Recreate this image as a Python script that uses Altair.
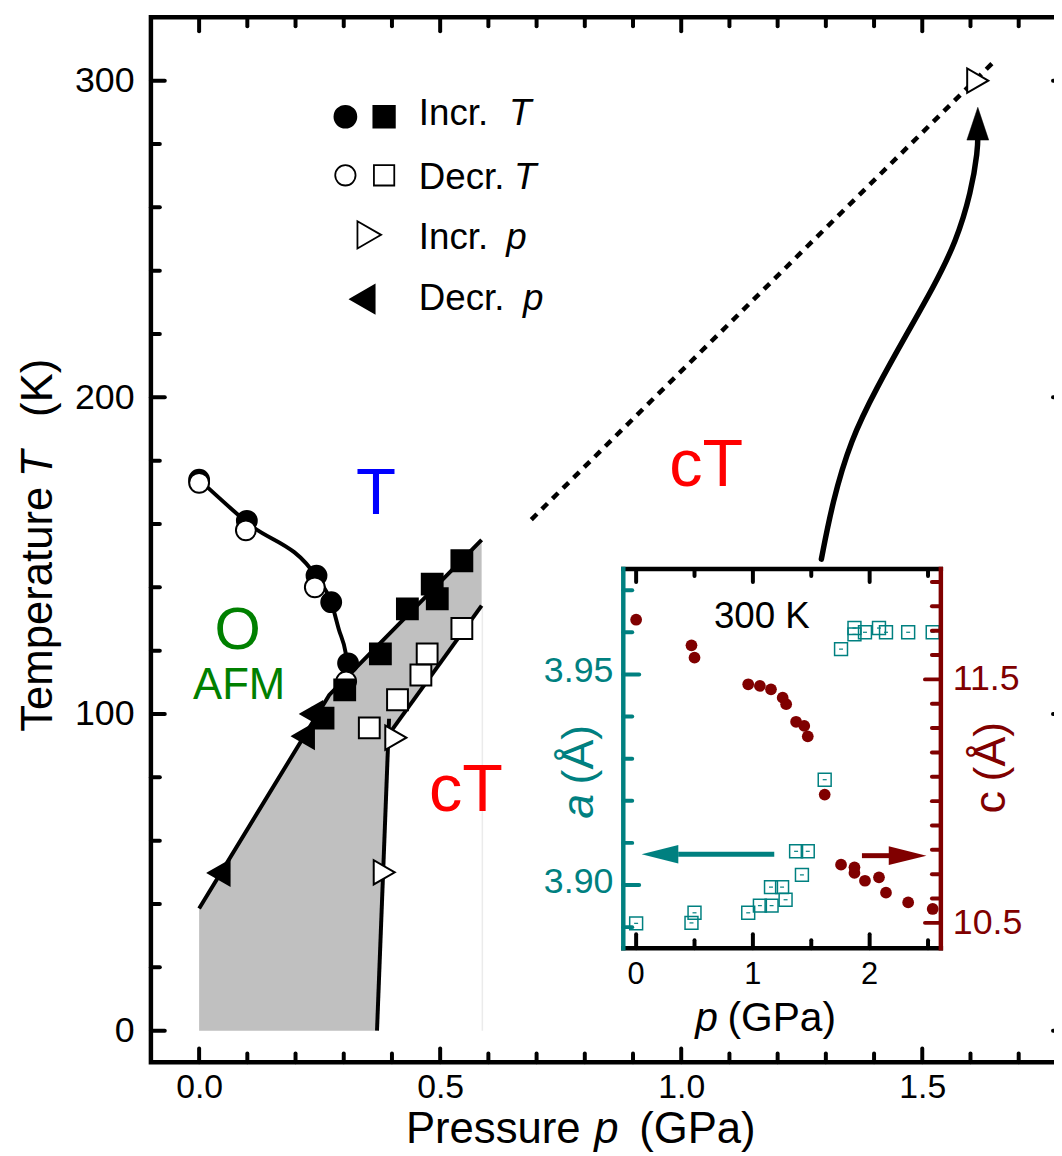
import altair as alt
import pandas as pd

FONT = "Liberation Sans"
TEAL = "#008080"
MAROON = "#800000"
SHADE = "#c0c0c0"

# ---------------- main panel values (p in GPa, T in K) ----------------
incr_T_circle_p = [0.000, 0.099, 0.2435, 0.274, 0.309]
incr_T_circle_T = [174.0, 161.0, 143.7, 135.3, 116.0]
decr_T_circle_p = [0.000, 0.097, 0.240, 0.305]
decr_T_circle_T = [173.0, 158.0, 140.0, 110.3]
incr_T_square_p = [0.257, 0.302, 0.376, 0.432, 0.4835, 0.494, 0.545]
incr_T_square_T = [98.7, 107.6, 119.0, 133.2, 141.0, 136.4, 148.4]
decr_T_square_p = [0.353, 0.4115, 0.460, 0.473, 0.545]
decr_T_square_T = [95.6, 104.5, 112.3, 119.0, 127.0]
incr_p_p = [0.384, 0.408, 1.615]
incr_p_T = [50.0, 92.5, 300.0]
decr_p_p = [0.041, 0.233, 0.216]
decr_p_T = [49.8, 100.0, 93.0]

o_t_line_p = [0.000, 0.099, 0.2435, 0.274, 0.290, 0.304, 0.309]
o_t_line_T = [174.0, 160.5, 143.2, 135.3, 126.6, 119.3, 114.0]
upper_line_p = [0.000, 0.270, 0.586]
upper_line_T = [38.6, 106.0, 155.0]
lower_line_p = [0.393, 0.586]
lower_line_T = [93.5, 134.2]
steep_line_p = [0.369, 0.394]
steep_line_T = [0.0, 98.5]
dotted_line_p = [0.689, 1.646]
dotted_line_T = [161.4, 305.6]
shade_p = [0.000, 0.270, 0.369, 0.393, 0.586]
shade_top_T = [38.6, 106.0, 121.3, 125.0, 155.0]
shade_bottom_T = [0.0, 0.0, 0.0, 93.5, 134.2]
shade_edge_p = [0.5875, 0.5875]
shade_edge_T = [0.0, 134.2]
curve_arrow_p = [1.2907, 1.3134, 1.3512, 1.4060, 1.4677, 1.5226, 1.5706, 1.6015, 1.6152, 1.6152]
curve_arrow_T = [148.9, 166.7, 186.5, 203.2, 220.0, 234.6, 249.2, 264.9, 278.0, 283.0]
curve_head_p = [1.6152]
curve_head_T = [286.4]

phase_T_label = (["T"], [0.367], [163.3])
phase_O_label = (["O"], [0.080], [120.6])
phase_AFM_label = (["AFM"], [0.083], [104.7])
phase_cT_labels = (["cT", "cT"], [0.5535, 1.052], [69.3, 172.0])

legend_words = ["Incr.", "Decr.", "Incr.", "Decr."]
legend_symbols = ["T", "T", "p", "p"]
legend_word_p = [0.4557, 0.4557, 0.4557, 0.4557]
legend_word_T = [286.0, 265.7, 246.9, 227.5]
legend_symbol_p = [0.643, 0.6534, 0.6369, 0.6719]
legend_row_T = [288.6, 270.1, 251.3, 231.0]
legend_circle_p = 0.3034
legend_square_p = 0.3837
legend_tri_right_p = 0.353
legend_tri_left_p = 0.339

x_label_values = [0.0, 0.5, 1.0, 1.5]
y_label_values = [0, 100, 200, 300]
x_minor_ticks = [0.1, 0.2, 0.3, 0.4, 0.6, 0.7, 0.8, 0.9, 1.1, 1.2, 1.3, 1.4, 1.6, 1.7]
y_minor_ticks = [20, 40, 60, 80, 120, 140, 160, 180, 220, 240, 260, 280]

# ---------------- inset values (p in GPa, a and c in Angstrom) ----------------
inset_p_a = [0.0, 0.474, 0.50, 0.96, 1.06, 1.16, 1.155, 1.25, 1.28, 1.37, 1.42, 1.47,
             1.615, 1.755, 1.87, 1.87, 1.96, 2.08, 2.14, 2.33, 2.54]
inset_a = [3.8909, 3.8910, 3.8934, 3.8934, 3.8951, 3.8951, 3.8995, 3.8995, 3.8965, 3.9080,
           3.9024, 3.9080, 3.9250, 3.9560, 3.9610, 3.9595, 3.9600, 3.9610, 3.9600, 3.9600, 3.9600]
inset_p_c = [0.0, 0.474, 0.50, 0.96, 1.06, 1.155, 1.255, 1.285, 1.37, 1.44, 1.47, 1.615,
             1.755, 1.87, 1.87, 1.96, 2.08, 2.14, 2.33, 2.54]
inset_c = [11.745, 11.640, 11.589, 11.480, 11.473, 11.459, 11.425, 11.398, 11.326, 11.309,
           11.266, 11.027, 10.739, 10.728, 10.705, 10.673, 10.687, 10.624, 10.584, 10.557]
inset_x_labels = [0, 1, 2]
inset_x_minor = [0.5, 1.5, 2.5]
inset_a_labels = [3.90, 3.95]
inset_a_minor = [3.89, 3.91, 3.92, 3.93, 3.94, 3.96, 3.97]
inset_c_labels = [10.5, 11.5]
inset_c_minor = [10.6, 10.7, 10.8, 10.9, 11.0, 11.1, 11.2, 11.3, 11.4, 11.6, 11.7, 11.8, 11.9]
teal_arrow_p = [0.36, 1.183]
teal_arrow_a = 3.9073
teal_head_p = 0.204
maroon_arrow_p = [1.934, 2.20]
maroon_arrow_c = 10.776
maroon_head_p = 2.325
inset_note = (["300 K"], [1.077], [3.9611])

# ---------------- layout ----------------
W, H = 923, 1053
X_DOM = [-0.1, 1.8]
Y_DOM = [-10.0, 320.0]
IX_DOM = [-0.11, 2.61]
IX_RANGE = [476, 796]
A_DOM = [3.885, 3.975]
C_DOM = [10.396, 11.953]
IY_RANGE = [938, 556]

X_AXIS = alt.Axis(values=x_label_values, format=".1f", domain=False, ticks=False, grid=False,
                  labelFontSize=34, labelColor="black", labelPadding=8, labelFont=FONT, title=None)
Y_AXIS = alt.Axis(values=y_label_values, format="d", domain=False, ticks=False, grid=False,
                  labelFontSize=36, labelColor="black", labelPadding=17, labelFont=FONT, title=None)
XM = alt.X("x:Q", scale=alt.Scale(domain=X_DOM, nice=False, zero=False), axis=X_AXIS)
YM = alt.Y("y:Q", scale=alt.Scale(domain=Y_DOM, nice=False, zero=False), axis=Y_AXIS)

XI = alt.X("ix:Q", scale=alt.Scale(domain=IX_DOM, range=IX_RANGE, nice=False, zero=False), axis=None)
YA = alt.Y("a:Q", scale=alt.Scale(domain=A_DOM, range=IY_RANGE, nice=False, zero=False), axis=None)
YC = alt.Y("c:Q", scale=alt.Scale(domain=C_DOM, range=IY_RANGE, nice=False, zero=False), axis=None)


def df(p, T):
    return pd.DataFrame({"x": p, "y": T})


def line(p, T, **kw):
    return alt.Chart(df(p, T)).mark_line(**kw).encode(x=XM, y=YM)


def pts(p, T, shape, size, fill, stroke="black", sw=2):
    return alt.Chart(df(p, T)).mark_point(
        shape=shape, size=size, filled=True, fill=fill, stroke=stroke,
        strokeWidth=sw, opacity=1).encode(x=XM, y=YM)


def dtext(lab, size, color="black", align="center", style="normal"):
    t, p, T = lab
    d = pd.DataFrame({"x": p, "y": T, "t": t})
    return alt.Chart(d).mark_text(font=FONT, fontSize=size, color=color, align=align,
                                  baseline="alphabetic", fontStyle=style).encode(
        x=XM, y=YM, text="t:N")


def ptext(txt, x, y, size, color="black", align="center", style="normal", angle=0):
    d = pd.DataFrame({"t": [txt]})
    return alt.Chart(d).mark_text(font=FONT, fontSize=size, color=color, align=align,
                                  baseline="alphabetic", fontStyle=style, angle=angle).encode(
        x=alt.value(x), y=alt.value(y), text="t:N")


def vticks(field, vals, enc, y0, y1, color="black", sw=4):
    d = pd.DataFrame({field: vals})
    return alt.Chart(d).mark_rule(color=color, strokeWidth=sw, strokeCap="round").encode(
        x=enc, y=alt.value(y0), y2=alt.value(y1))


def hticks(field, vals, enc, x0, x1, color="black", sw=4):
    d = pd.DataFrame({field: vals})
    return alt.Chart(d).mark_rule(color=color, strokeWidth=sw, strokeCap="round").encode(
        y=enc, x=alt.value(x0), x2=alt.value(x1))


# ---------------- main panel ----------------
shade = alt.Chart(pd.DataFrame({"x": shade_p, "y": shade_top_T, "y2": shade_bottom_T})).mark_area(
    color=SHADE, opacity=1).encode(x=XM, y=YM, y2="y2:Q")
shade_edge = line(shade_edge_p, shade_edge_T, color="#ebebeb", strokeWidth=1.5)

lines = [
    line(o_t_line_p, o_t_line_T, color="black", strokeWidth=4, interpolate="monotone"),
    line(upper_line_p, upper_line_T, color="black", strokeWidth=4),
    line(lower_line_p, lower_line_T, color="black", strokeWidth=4),
    line(steep_line_p, steep_line_T, color="black", strokeWidth=4),
    line(dotted_line_p, dotted_line_T, color="black", strokeWidth=4.5, strokeDash=[8, 7]),
    line(curve_arrow_p, curve_arrow_T, color="black", strokeWidth=5.5, interpolate="basis",
         strokeCap="round"),
]
curve_head = pts(curve_head_p, curve_head_T, "M0,-1L0.667,1L-0.667,1Z", 1089, "black", sw=0.5)

labels = [
    dtext(phase_T_label, 66, color="#0000ff"),
    dtext(phase_O_label, 60, color="#008000"),
    dtext(phase_AFM_label, 44, color="#008000"),
    dtext(phase_cT_labels, 67, color="#ff0000"),
]

markers = [
    pts(incr_T_circle_p, incr_T_circle_T, "circle", 400, "black"),
    pts(decr_T_circle_p, decr_T_circle_T, "circle", 400, "white"),
    pts(incr_T_square_p, incr_T_square_T, "square", 441, "black"),
    pts(decr_T_square_p, decr_T_square_T, "square", 441, "white"),
    pts(decr_p_p, decr_p_T, "triangle-left", 620, "black"),
    pts(incr_p_p, incr_p_T, "triangle-right", 600, "white"),
]

legend = [
    pts([legend_circle_p], [legend_row_T[0]], "circle", 480, "black"),
    pts([legend_square_p], [legend_row_T[0]], "square", 460, "black"),
    pts([legend_circle_p], [legend_row_T[1]], "circle", 420, "white", sw=1.8),
    pts([legend_square_p], [legend_row_T[1]], "square", 420, "white", sw=1.8),
    pts([legend_tri_right_p], [legend_row_T[2]], "triangle-right", 760, "white", sw=1.8),
    pts([legend_tri_left_p], [legend_row_T[3]], "triangle-left", 780, "black"),
    dtext((legend_words, legend_word_p, legend_word_T), 37, align="left"),
    dtext((legend_symbols, legend_symbol_p, legend_word_T), 37, align="left", style="italic"),
]

main_ticks = [
    vticks("x", x_label_values, XM, H, H - 14),
    vticks("x", x_minor_ticks, XM, H, H - 9),
    vticks("x", x_label_values, XM, 0, 14),
    vticks("x", x_minor_ticks, XM, 0, 9),
    hticks("y", y_label_values, YM, 0, 14),
    hticks("y", y_minor_ticks, YM, 0, 9),
    hticks("y", y_label_values, YM, W, W - 14),
    hticks("y", y_minor_ticks, YM, W, W - 9),
]

main_titles = [
    ptext("Temperature", -100, 720, 44, align="left", angle=270),
    ptext("T", -100, 450, 44, style="italic", angle=270),
    ptext("(K)", -100, 344, 44, align="right", angle=270),
    ptext("Pressure", 433, 1134, 44, align="right"),
    ptext("p", 459, 1134, 44, style="italic"),
    ptext("(GPa)", 492, 1134, 44, align="left"),
]

main = alt.layer(shade, shade_edge, *lines, curve_head, *labels, *markers, *legend,
                 *main_ticks, *main_titles)

# ---------------- inset: a axis (left, teal) ----------------
a_df = pd.DataFrame({"ix": inset_p_a, "a": inset_a})
a_squares = alt.Chart(a_df).mark_point(shape="square", filled=False, color=TEAL, strokeWidth=1.5,
                                       size=169, opacity=1).encode(x=XI, y=YA)
a_bars = alt.Chart(a_df).mark_point(shape="M-1,0L1,0", filled=False, color=TEAL, strokeWidth=1.2,
                                    size=16, opacity=1).encode(x=XI, y=YA)

h_frame = alt.Chart(pd.DataFrame({"ix": [IX_DOM[0]] * 2, "ix2": [IX_DOM[1]] * 2, "a": A_DOM})).mark_rule(
    color="black", strokeWidth=4.5, strokeCap="square").encode(x=XI, x2="ix2:Q", y=YA)
left_frame = alt.Chart(pd.DataFrame({"ix": [IX_DOM[0]], "a": [A_DOM[0]], "a2": [A_DOM[1]]})).mark_rule(
    color=TEAL, strokeWidth=4.5, strokeCap="square").encode(x=XI, y=YA, y2="a2:Q")

teal_shaft = alt.Chart(pd.DataFrame({"ix": [teal_arrow_p[0]], "ix2": [teal_arrow_p[1]],
                                     "a": [teal_arrow_a]})).mark_rule(
    color=TEAL, strokeWidth=5).encode(x=XI, x2="ix2:Q", y=YA)
teal_head = alt.Chart(pd.DataFrame({"ix": [teal_head_p], "a": [teal_arrow_a]})).mark_point(
    shape="M-1,0L1,-0.5L1,0.5Z", size=1369, filled=True, color=TEAL, opacity=1).encode(x=XI, y=YA)

note_t, note_p, note_a = inset_note
note = alt.Chart(pd.DataFrame({"ix": note_p, "a": note_a, "t": note_t})).mark_text(
    font=FONT, fontSize=37, color="black", baseline="alphabetic").encode(x=XI, y=YA, text="t:N")

ix_lab = alt.Chart(pd.DataFrame({"ix": inset_x_labels, "t": [str(v) for v in inset_x_labels]})).mark_text(
    font=FONT, fontSize=31, color="black", baseline="alphabetic").encode(
    x=XI, y=alt.value(974), text="t:N")
a_lab = alt.Chart(pd.DataFrame({"a": inset_a_labels, "t": ["%.2f" % v for v in inset_a_labels]})).mark_text(
    font=FONT, fontSize=36, color=TEAL, baseline="alphabetic", align="right", dy=8).encode(
    x=alt.value(466), y=YA, text="t:N")

inset_ticks_a = [
    vticks("ix", inset_x_labels, XI, IY_RANGE[0], IY_RANGE[0] - 14),
    vticks("ix", inset_x_minor, XI, IY_RANGE[0], IY_RANGE[0] - 8),
    vticks("ix", inset_x_labels, XI, IY_RANGE[1], IY_RANGE[1] + 13),
    vticks("ix", inset_x_minor, XI, IY_RANGE[1], IY_RANGE[1] + 7),
    hticks("a", inset_a_labels, YA, IX_RANGE[0], IX_RANGE[0] + 16, color=TEAL),
    hticks("a", inset_a_minor, YA, IX_RANGE[0], IX_RANGE[0] + 9, color=TEAL),
]

inset_titles = [
    ptext("p", 560, 1021, 41, style="italic"),
    ptext("(GPa)", 581, 1021, 41, align="left"),
    ptext("a", 445, 795, 45, color=TEAL, style="italic", angle=270),
    ptext("(\u00c5)", 445, 773, 45, color=TEAL, align="left", angle=270),
    ptext("c", 861, 791, 45, color=MAROON, angle=270),
    ptext("(\u00c5)", 861, 770, 45, color=MAROON, align="left", angle=270),
]

inset_a_layer = alt.layer(h_frame, *inset_ticks_a, a_squares, a_bars, teal_shaft, teal_head,
                          note, ix_lab, a_lab, *inset_titles, left_frame)

# ---------------- inset: c axis (right, maroon) ----------------
c_df = pd.DataFrame({"ix": inset_p_c, "c": inset_c})
c_dots = alt.Chart(c_df).mark_point(shape="circle", filled=True, color=MAROON, size=140,
                                    opacity=1).encode(x=XI, y=YC)
right_frame = alt.Chart(pd.DataFrame({"ix": [IX_DOM[1]], "c": [C_DOM[0]], "c2": [C_DOM[1]]})).mark_rule(
    color=MAROON, strokeWidth=4.5, strokeCap="square").encode(x=XI, y=YC, y2="c2:Q")
maroon_shaft = alt.Chart(pd.DataFrame({"ix": [maroon_arrow_p[0]], "ix2": [maroon_arrow_p[1]],
                                       "c": [maroon_arrow_c]})).mark_rule(
    color=MAROON, strokeWidth=5).encode(x=XI, x2="ix2:Q", y=YC)
maroon_head = alt.Chart(pd.DataFrame({"ix": [maroon_head_p], "c": [maroon_arrow_c]})).mark_point(
    shape="M1,0L-1,-0.5L-1,0.5Z", size=1444, filled=True, color=MAROON, opacity=1).encode(x=XI, y=YC)
c_lab = alt.Chart(pd.DataFrame({"c": inset_c_labels, "t": ["%.1f" % v for v in inset_c_labels]})).mark_text(
    font=FONT, fontSize=36, color=MAROON, baseline="alphabetic", align="left", dy=11).encode(
    x=alt.value(808), y=YC, text="t:N")
inset_ticks_c = [
    hticks("c", inset_c_labels, YC, IX_RANGE[1], IX_RANGE[1] - 16, color=MAROON),
    hticks("c", inset_c_minor, YC, IX_RANGE[1], IX_RANGE[1] - 9, color=MAROON),
]
inset_c_layer = alt.layer(*inset_ticks_c, c_dots, maroon_shaft, maroon_head, c_lab, right_frame)

chart = alt.layer(main, inset_a_layer, inset_c_layer).resolve_scale(
    x="independent", y="independent"
).properties(
    width=W, height=H,
    autosize=alt.AutoSizeParams(type="none"),
    padding={"left": 144, "top": 5, "right": -13, "bottom": 88},
).configure(font=FONT).configure_view(stroke="black", strokeWidth=4.5)

chart.save("out.html", embed_options={"renderer": "svg", "actions": False})
